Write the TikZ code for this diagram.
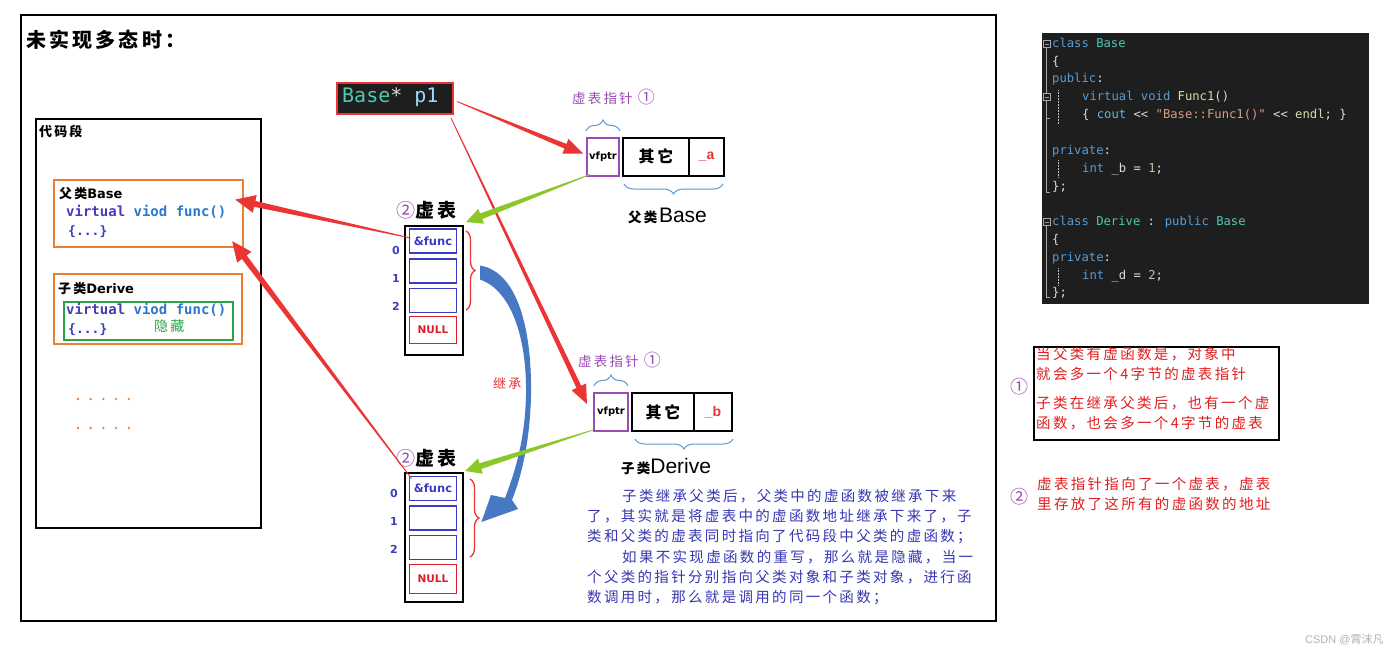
\documentclass[tikz,border=0pt]{standalone}
\usepackage{fontspec}
\setmainfont{Noto Sans CJK SC}
\newfontfamily\cjk[LetterSpace=16]{Noto Sans CJK SC}
\newfontfamily\cjkn{Noto Sans CJK SC}
\newfontfamily\mono{DejaVu Sans Mono}
\newfontfamily\lsans{Liberation Sans}
\newfontfamily\dsans{DejaVu Sans}
\usetikzlibrary{calc,decorations.pathreplacing}
\newcommand\fsz[1]{\fontsize{#1pt}{#1pt}\selectfont}
\definecolor{cred}{RGB}{236,52,52}
\definecolor{cgreenarr}{RGB}{140,198,40}
\definecolor{corange}{RGB}{237,125,49}
\definecolor{cgbox}{RGB}{40,165,70}
\definecolor{cvb}{RGB}{60,60,195}
\definecolor{cnull}{RGB}{220,30,40}
\definecolor{cpurple}{RGB}{155,75,180}
\definecolor{cbrace}{RGB}{91,155,213}
\definecolor{cdesc}{RGB}{55,55,180}
\definecolor{ccurve}{RGB}{70,120,195}
\definecolor{cbg}{RGB}{30,30,30}
\definecolor{ckw}{RGB}{86,156,214}
\definecolor{ctype}{RGB}{78,201,176}
\definecolor{cfn}{RGB}{220,220,170}
\definecolor{cstr}{RGB}{214,157,133}
\definecolor{cnum}{RGB}{181,206,168}
\definecolor{cplain}{RGB}{220,220,220}
\definecolor{ccout}{RGB}{78,193,230}
\definecolor{cvar}{RGB}{156,220,254}
\definecolor{cvirt}{RGB}{70,60,190}
\definecolor{cviod}{RGB}{40,120,205}
\definecolor{cnote}{RGB}{225,30,30}
\newcommand\taper[7]{%
  \path ($(#3)!#6!(#2)$) coordinate (tpB);
  \fill[#1] ($(#2)!#4!90:(#3)$) -- ($(tpB)!#5!90:(#3)$) -- ($(tpB)!#7!90:(#3)$) -- (#3)
    -- ($(tpB)!#7!-90:(#3)$) -- ($(tpB)!#5!-90:(#3)$) -- ($(#2)!#4!-90:(#3)$) -- cycle;
}
\begin{document}
\begin{tikzpicture}[x=1pt,y=-1pt,
  every node/.style={inner sep=0pt},
  lbl/.style={anchor=west},
  obox/.style={draw=corange,line width=2.2pt,anchor=north west},
  vb/.style={draw=cvb,line width=1.8pt,minimum width=47pt,minimum height=24pt},
  nb/.style={draw=cnull,line width=1.8pt,minimum width=47pt,minimum height=27pt},
  obj/.style={draw=black,line width=2pt,minimum height=38pt},
  bbr/.style={decorate,decoration={brace,amplitude=#1},draw=cbrace,line width=1pt},
  rbr/.style={decorate,decoration={brace,amplitude=#1},draw=cred,line width=1.3pt},
  code/.style={anchor=west,text height=9pt,text depth=2.5pt,font=\mono\fsz{12.2}},
  idx/.style={font=\dsans\bfseries\fsz{11},text=cvb},
]
\useasboundingbox (0,0) rectangle (1400,654);
\fill[white] (0,0) rectangle (1400,654);

% outer frame
\node[draw=black,line width=2.4pt,anchor=north west,minimum width=975pt,minimum height=606pt] (frame) at (20,14) {};
\node[lbl,font=\cjk\bfseries\fsz{20}] (title) at (26,40) {未实现多态时：};

% code segment
\node[draw=black,line width=2.2pt,anchor=north west,minimum width=225pt,minimum height=409pt] (seg) at (35,118) {};
\node[lbl,font=\cjk\bfseries\fsz{13}] (segt) at (39,131) {代码段};
\node[obox,minimum width=189pt,minimum height=67pt] (basebox) at (53,179) {};
\node[lbl] (baset) at (59,194) {{\cjk\bfseries\fsz{13}父类}{\dsans\bfseries\fsz{13}Base}};
\node[lbl,font=\mono\bfseries\fsz{14}] (basef) at (66,212) {\textcolor{cvirt}{virtual} \textcolor{cviod}{viod} \textcolor{cviod}{func()}};
\node[lbl,font=\mono\bfseries\fsz{13},text=cvb] (baseb) at (68,232) {\{...\}};
\node[obox,minimum width=188pt,minimum height=70pt] (derbox) at (53,273) {};
\node[lbl] (dert) at (58,289) {{\cjk\bfseries\fsz{13}子类}{\dsans\bfseries\fsz{13}Derive}};
\node[draw=cgbox,line width=2pt,anchor=north west,minimum width=169pt,minimum height=38pt] (gbox) at (63,301) {};
\node[lbl,font=\mono\bfseries\fsz{14}] (derf) at (66,310) {\textcolor{cvirt}{virtual} \textcolor{cviod}{viod} \textcolor{cviod}{func()}};
\node[lbl,font=\mono\bfseries\fsz{13},text=cvb] (derb) at (68,330) {\{...\}};
\node[lbl,font=\cjk\fsz{14},text=cgbox] (hide) at (154,326) {隐藏};
\foreach \i in {0,...,4}{
  \fill[corange] (78+12.7*\i,399) circle (1.3);
  \fill[corange] (78+12.7*\i,428) circle (1.3);
}

% Base* p1
\node[draw=cred,line width=2pt,fill=cbg,anchor=north west,minimum width=116pt,minimum height=31pt] (p1) at (336,82) {};
\node[lbl,font=\mono\fsz{20}] (p1t) at (342,97.5) {\textcolor{ctype}{Base}\textcolor{cplain}{*} \textcolor{cvar}{p1}};

% upper object
\node[lbl,font=\cjk\fsz{13.5},text=cpurple] (vpl1) at (572,97) {虚表指针 {\cjkn\fsz{17}①}};
\node[obj,draw=cpurple,minimum width=32pt] (vf1) at (603,156.5) {\dsans\bfseries\fsz{10}vfptr};
\node[obj,minimum width=66pt] (ot1) at (656,156.5) {\cjk\bfseries\fsz{16}其它};
\node[obj,minimum width=35pt] (a1) at (706.5,156.5) {\lsans\bfseries\fsz{14}\color{cred}\_a};
\draw[bbr=11pt] (586,131) -- (620,131);
\draw[bbr=10pt] (723,184) -- (624,184);
\node[lbl] (bl1) at (628,216) {{\cjk\bfseries\fsz{13.5}父类}\,{\lsans\fsz{21}Base}};

% lower object
\node[lbl,font=\cjk\fsz{13.5},text=cpurple] (vpl2) at (578,360) {虚表指针 {\cjkn\fsz{17}①}};
\node[obj,draw=cpurple,minimum width=34pt] (vf2) at (611,412) {\dsans\bfseries\fsz{10}vfptr};
\node[obj,minimum width=62pt] (ot2) at (663,412) {\cjk\bfseries\fsz{16}其它};
\node[obj,minimum width=38pt] (b2) at (713,412) {\lsans\bfseries\fsz{14}\color{cred}\_b};
\draw[bbr=11pt] (594,386) -- (628,386);
\draw[bbr=10pt] (733,439) -- (635,439);
\node[lbl] (bl2) at (621,467) {{\cjk\bfseries\fsz{13.5}子类}{\lsans\fsz{21}Derive}};

% upper vtable
\node[lbl] (vtl1) at (396,210) {{\cjkn\fsz{19}\color{cpurple}②}{\cjk\bfseries\fsz{19}虚表}};
\node[draw=black,line width=2.2pt,anchor=north west,minimum width=58pt,minimum height=129pt] (vt1) at (404,225) {};
\node[vb] (f1) at (433,241) {\dsans\bfseries\fsz{11.5}\color{cvb}\&func};
\node[vb] (e1a) at (433,271) {};
\node[vb] (e1b) at (433,300.5) {};
\node[nb] (n1) at (433,330) {\dsans\bfseries\fsz{10.5}\color{cnull}NULL};
\node[idx] (i10) at (396,250) {0};
\node[idx] (i11) at (396,278) {1};
\node[idx] (i12) at (396,306) {2};
\draw[rbr=9pt] (466,231) -- (466,310);

% lower vtable
\node[lbl] (vtl2) at (396,458) {{\cjkn\fsz{19}\color{cpurple}②}{\cjk\bfseries\fsz{19}虚表}};
\node[draw=black,line width=2.2pt,anchor=north west,minimum width=58pt,minimum height=129pt] (vt2) at (404,472) {};
\node[vb] (f2) at (433,488.5) {\dsans\bfseries\fsz{11.5}\color{cvb}\&func};
\node[vb] (e2a) at (433,518) {};
\node[vb] (e2b) at (433,547.5) {};
\node[nb,minimum height=29pt] (n2) at (433,579) {\dsans\bfseries\fsz{10.5}\color{cnull}NULL};
\node[idx] (i20) at (394,493) {0};
\node[idx] (i21) at (394,521) {1};
\node[idx] (i22) at (394,549) {2};
\draw[rbr=9pt] (470,479) -- (470,557);

% inheritance curved arrow
\coordinate (inhS) at ($(vt1.east)+(16,-25)$);
\coordinate (inhE) at ($(e2a.east)+(24,4)$);
\fill[ccurve] (inhS) .. controls (518,272) and (532,330) .. (531,395)
  .. controls (530,440) and (522,475) .. (512,500) -- (518,509) -- (inhE) -- (491,495) -- (505,498)
  .. controls (515,472) and (525,440) .. (526,395)
  .. controls (527,335) and (510,290) .. ($(inhS)+(0,14)$) -- cycle;
\node[lbl,font=\cjk\fsz{13},text=cred] (inht) at (493,383) {继承};

% red arrows
\coordinate (r1s) at ($(p1.east)+(3,3)$);
\coordinate (r1e) at ($(vf1.west)+(-3,-3)$);
\taper{cred}{r1s}{r1e}{0.4pt}{2.5pt}{19pt}{8pt}
\coordinate (r2s) at ($(p1.south east)+(-3,3)$);
\coordinate (r2e) at ($(vf2.north west)+(-6,12)$);
\taper{cred}{r2s}{r2e}{0.4pt}{2.6pt}{19pt}{8pt}
\coordinate (r3s) at ($(f1.west)+(2,-3)$);
\coordinate (r3e) at ($(basebox.east)+(-9,-14)$);
\taper{cred}{r3s}{r3e}{0.4pt}{3pt}{20pt}{9pt}
\coordinate (r4s) at ($(f2.north west)+(3,3)$);
\coordinate (r4e) at ($(basebox.south east)+(-12,-7)$);
\taper{cred}{r4s}{r4e}{0.4pt}{3pt}{20pt}{9pt}

% green arrows
\coordinate (g1s) at ($(vf1.south west)+(4,-2)$);
\coordinate (g1e) at ($(vt1.north east)+(2,-3)$);
\taper{cgreenarr}{g1s}{g1e}{0.4pt}{3pt}{16pt}{8pt}
\coordinate (g2s) at ($(vf2.south west)+(0,-2)$);
\coordinate (g2e) at ($(vt2.north east)+(1,-1)$);
\taper{cgreenarr}{g2s}{g2e}{0.4pt}{3pt}{16pt}{8pt}

% description
\node[anchor=north west,align=left,text=cdesc,font=\cjk\fontsize{14.5pt}{20.2pt}\selectfont] (desc) at (587,489) {%
\hspace*{35pt}子类继承父类后，父类中的虚函数被继承下来\\
了，其实就是将虚表中的虚函数地址继承下来了，子\\
类和父类的虚表同时指向了代码段中父类的虚函数；\\
\hspace*{35pt}如果不实现虚函数的重写，那么就是隐藏，当一\\
个父类的指针分别指向父类对象和子类对象，进行函\\
数调用时，那么就是调用的同一个函数；};

% code panel
\node[fill=cbg,anchor=north west,minimum width=327pt,minimum height=271pt] (panel) at (1042,33) {};
\draw[gray!70,line width=0.6pt] (1046,48) -- (1046,192) -- (1050,192);
\draw[gray!70,line width=0.6pt] (1046,101) -- (1046,118) -- (1050,118);
\draw[gray!70,line width=0.6pt] (1046,226) -- (1046,297) -- (1050,297);
\foreach \yy in {44,97,222}{
  \draw[gray!70,fill=cbg,line width=0.5pt] (1043,\yy-3.5) rectangle (1050,\yy+3.5);
  \draw[gray!80,line width=0.5pt] (1044.5,\yy) -- (1048.5,\yy);
}
\draw[gray!50,densely dotted,line width=0.5pt] (1058,90) -- (1058,124);
\draw[gray!50,densely dotted,line width=0.5pt] (1058,160) -- (1058,177);
\draw[gray!50,densely dotted,line width=0.5pt] (1058,268) -- (1058,285);
\node[code] (c1) at (1052,44) {\textcolor{ckw}{class} \textcolor{ctype}{Base}};
\node[code,text=cplain] (c2) at (1052,62) {\{};
\node[code,text=ckw] (c3) at (1052,79) {public\textcolor{cplain}{:}};
\node[code] (c4) at (1082,97) {\textcolor{ckw}{virtual} \textcolor{ckw}{void} \textcolor{cfn}{Func1}\textcolor{cplain}{()}};
\node[code,text=cplain] (c5) at (1082,115) {\{ \textcolor{ccout}{cout} << \textcolor{cstr}{"Base::Func1()"} << \textcolor{cfn}{endl}; \}};
\node[code,text=ckw] (c7) at (1052,151) {private\textcolor{cplain}{:}};
\node[code,text=cplain] (c8) at (1082,169) {\textcolor{ckw}{int} \_b = \textcolor{cnum}{1};};
\node[code,text=cplain] (c9) at (1052,187) {\};};
\node[code] (c11) at (1052,222) {\textcolor{ckw}{class} \textcolor{ctype}{Derive} \textcolor{cplain}{:} \textcolor{ckw}{public} \textcolor{ctype}{Base}};
\node[code,text=cplain] (c12) at (1052,240) {\{};
\node[code,text=ckw] (c13) at (1052,258) {private\textcolor{cplain}{:}};
\node[code,text=cplain] (c14) at (1082,276) {\textcolor{ckw}{int} \_d = \textcolor{cnum}{2};};
\node[code,text=cplain] (c15) at (1052,293) {\};};

% notes
\node[draw=black,line width=2pt,anchor=north west,minimum width=245pt,minimum height=93pt] (note) at (1033,346) {};
\node[anchor=north west,align=left,text=cnote,font=\cjk\fontsize{14.5pt}{20.5pt}\selectfont] (n1t) at (1036,347) {当父类有虚函数是，对象中\\就会多一个4字节的虚表指针};
\node[anchor=north west,align=left,text=cnote,font=\cjk\fontsize{14.5pt}{20.5pt}\selectfont] (n2t) at (1036,396) {子类在继承父类后，也有一个虚\\函数，也会多一个4字节的虚表};
\node[font=\cjkn\fsz{18},text=cpurple] (m1) at (1019,387) {①};
\node[font=\cjkn\fsz{18},text=cpurple] (m2) at (1019,497) {②};
\node[anchor=north west,align=left,text=cnote,font=\cjk\fontsize{14.5pt}{20.5pt}\selectfont] (n3t) at (1037,477) {虚表指针指向了一个虚表，虚表\\里存放了这所有的虚函数的地址};

\node[lbl,font=\lsans\fsz{11},text=gray!60] (wm) at (1305,640) {CSDN @{\cjkn 霄沫凡}};
\end{tikzpicture}
\end{document}
